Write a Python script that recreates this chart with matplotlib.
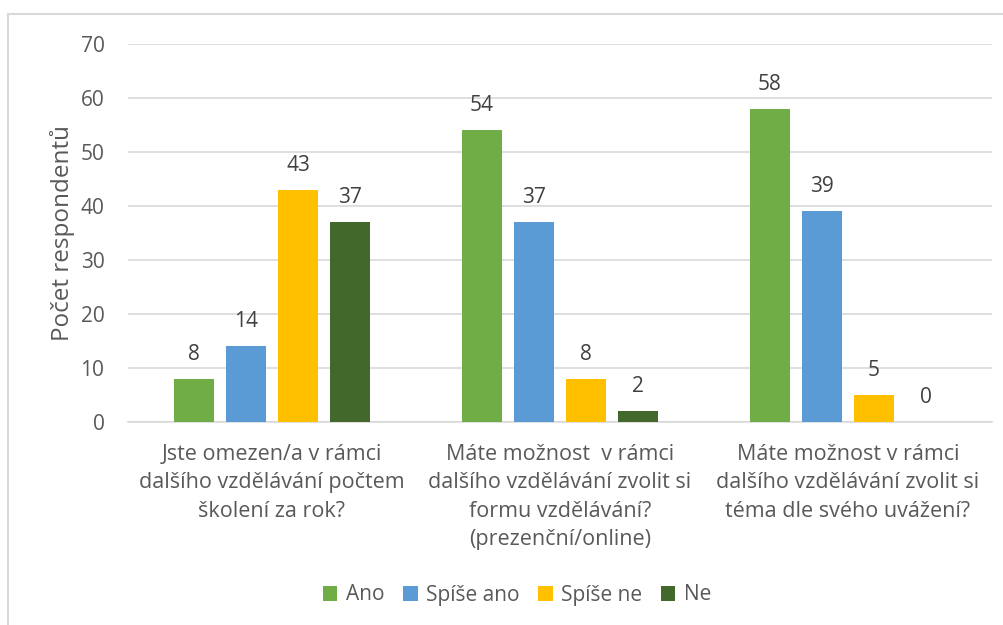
import matplotlib
matplotlib.use("Agg")
import matplotlib.pyplot as plt
from matplotlib.lines import Line2D
import numpy as np

categories = [
    "Jste omezen/a v rámci\ndalšího vzdělávání počtem\nškolení za rok?",
    "Máte možnost  v rámci\ndalšího vzdělávání zvolit si\nformu vzdělávání?\n(prezenční/online)",
    "Máte možnost v rámci\ndalšího vzdělávání zvolit si\ntéma dle svého uvážení?",
]
series_names = ["Ano", "Spíše ano", "Spíše ne", "Ne"]
ano = [8, 54, 58]
spise_ano = [14, 37, 39]
spise_ne = [43, 8, 5]
ne = [37, 2, 0]
colors = ["#70ad47", "#5b9bd5", "#ffc000", "#43682b"]

plt.rcParams["font.family"] = ["Open Sans", "DejaVu Sans"]
txt = "#595959"

fig = plt.figure(figsize=(10.04, 6.25), dpi=100)
ax = fig.add_axes([128 / 1004, 1 - 422 / 625, 864 / 1004, 378 / 625])

x = np.arange(len(categories))
width = 40 / 288
step = 52 / 288
for i, (name, vals) in enumerate(zip(series_names, [ano, spise_ano, spise_ne, ne])):
    pos = x + (i - 1.5) * step
    ax.bar(pos, vals, width, color=colors[i], label=name, zorder=3)
    for p, v in zip(pos, vals):
        ax.text(p, v + 2.6, str(v), ha="center", va="bottom", fontsize=15, color="#404040")

ax.set_xlim(-0.5, 2.5)
ax.set_ylim(0, 70)
ax.set_yticks(range(0, 71, 10))
ax.yaxis.grid(True, color="#d9d9d9", linewidth=1.2, zorder=0)
for s in ["top", "right", "left"]:
    ax.spines[s].set_visible(False)
ax.spines["bottom"].set_color("#d9d9d9")
ax.spines["bottom"].set_linewidth(1.2)
ax.tick_params(axis="both", length=0, labelcolor=txt)
ax.tick_params(axis="y", pad=17, labelsize=15)
ax.tick_params(axis="x", pad=16)
ax.set_xticks(x)
ax.set_xticklabels(categories, fontsize=15.5, linespacing=1.45)
ax.set_ylabel("Počet respondentů", fontsize=17.5, color=txt, labelpad=4)

ax.legend(loc="center", bbox_to_anchor=((517 - 128) / 864, (422 - 595) / 378), ncol=4, frameon=False,
          fontsize=15, handlelength=0.7, handleheight=0.7, handletextpad=0.4, columnspacing=0.9,
          labelcolor=txt)

# outer chart border (cropped at right and bottom)
fig.add_artist(Line2D([8 / 1004, 1], [1 - 14 / 625, 1 - 14 / 625], color="#d9d9d9", linewidth=1.5))
fig.add_artist(Line2D([8 / 1004, 8 / 1004], [0, 1 - 14 / 625], color="#d9d9d9", linewidth=1.5))

fig.savefig("out.png", dpi=100)
